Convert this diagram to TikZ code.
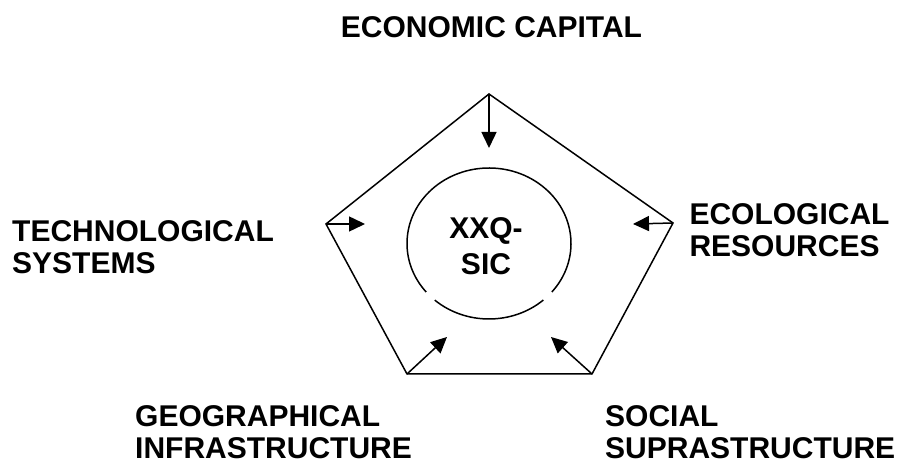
\documentclass[tikz,border=0pt]{standalone}
\usepackage{fontspec}
\setmainfont{Liberation Sans}
\usetikzlibrary{arrows.meta}
\begin{document}
\begin{tikzpicture}[x=1pt,y=1pt,
  lbl/.style={font=\bfseries\fontsize{30}{31.7}\selectfont, inner sep=0pt, align=left},
  edge/.style={line width=1.5pt, line join=miter},
  arr/.style={line width=1.5pt, -{Triangle[length=16pt,width=15pt]}}]
\useasboundingbox (0,0) rectangle (911,468);
% pentagon corners
\coordinate (T) at (489,374);
\coordinate (R) at (673,245);
\coordinate (BR) at (592,94);
\coordinate (BL) at (407,94);
\coordinate (L) at (326,244);
\draw[edge] (T) -- (R) -- (BR) -- (BL) -- (L) -- cycle;
% arrow tips
\coordinate (tT) at (489,320);
\coordinate (tL) at (365,244);
\coordinate (tR) at (633,244);
\coordinate (tBL) at (447,131);
\coordinate (tBR) at (551,131);
\draw[arr] (T) -- (tT);
\draw[arr] (L) -- (tL);
\draw[arr] (R) -- (tR);
\draw[arr] (BL) -- (tBL);
\draw[arr] (BR) -- (tBR);
% core circle (broken)
\coordinate (core) at (489,224.5);
\draw[line width=1.5pt] (core) ++(-40:82 and 75.5) arc[start angle=-40, end angle=220, x radius=82, y radius=75.5];
\draw[line width=1.5pt] (core) ++(228.6:82 and 75.5) arc[start angle=228.6, end angle=311.5, x radius=82, y radius=75.5];
\node[lbl, align=center, font=\bfseries\fontsize{30}{36.7}\selectfont] (xxq) at (486,221.9) {XXQ-\\SIC};
% labels
\node[lbl, anchor=base] (econ) at (491.5,430.7) {ECONOMIC CAPITAL};
\node[lbl, anchor=north west] (tech) at (12,247.8) {TECHNOLOGICAL\\SYSTEMS};
\node[lbl, anchor=north west] (ecol) at (689.3,264.5) {ECOLOGICAL\\RESOURCES};
\node[lbl, anchor=north west] (geo) at (135,62.2) {GEOGRAPHICAL\\INFRASTRUCTURE};
\node[lbl, anchor=north west] (soc) at (605,62.2) {SOCIAL\\SUPRASTRUCTURE};
\end{tikzpicture}
\end{document}
